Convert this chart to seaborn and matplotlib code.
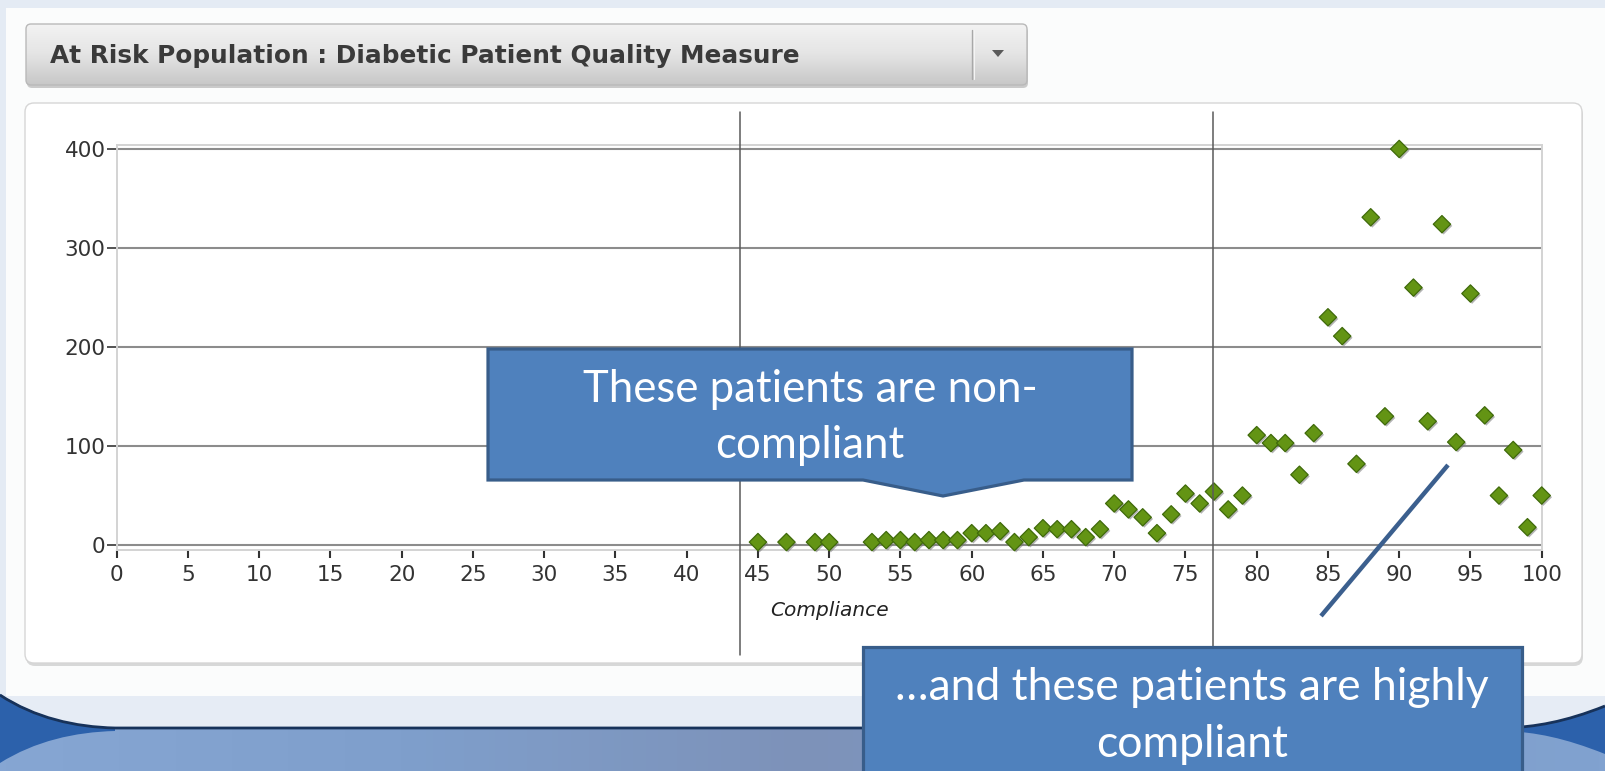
import numpy as np
import matplotlib
matplotlib.use("Agg")
import matplotlib.pyplot as plt
import matplotlib.patheffects as pe
from matplotlib.patches import Polygon, FancyBboxPatch, Rectangle
from matplotlib.path import Path
from matplotlib.patches import PathPatch
import seaborn as sns
import pandas as pd

# ---------------- data ----------------
compliance = [45, 47, 49, 50, 53, 54, 55, 56, 57, 58, 59, 60, 61, 62, 63, 64,
              65, 66, 67, 68, 69, 70, 71, 72, 73, 74, 75, 76, 77, 78, 79, 80,
              81, 82, 83, 84, 85, 86, 87, 88, 89, 90, 91, 92, 93, 94, 95, 96,
              97, 98, 99, 100]
patients = [3, 3, 3, 3, 3, 5, 5, 3, 5, 5, 5, 12, 12, 14, 3, 8,
            17, 16, 16, 8, 16, 42, 36, 28, 12, 31, 52, 42, 54, 36, 50, 111,
            103, 103, 71, 113, 230, 211, 82, 331, 130, 400, 260, 125, 324, 104, 254, 131,
            50, 96, 18, 50]
x_ticks = list(range(0, 101, 5))
y_ticks = [0, 100, 200, 300, 400]
title = "At Risk Population : Diabetic Patient Quality Measure"
x_label = "Compliance"
callout1_lines = ["These patients are non-", "compliant"]
callout2_lines = ["\u2026and these patients are highly", "compliant"]

df = pd.DataFrame({"Compliance": compliance, "Patients": patients})

sns.set_theme(style="white")
plt.rcParams["font.family"] = ["DejaVu Sans"]

W, H = 1605, 771
fig = plt.figure(figsize=(W / 100, H / 100), dpi=100)
fig.patch.set_facecolor("#fbfcfc")

# ---------------- background (pixel coordinates) ----------------
bg = fig.add_axes([0, 0, 1, 1], zorder=-5)
bg.set_xlim(0, W)
bg.set_ylim(H, 0)
bg.axis("off")

bg.add_patch(Rectangle((0, 0), W, 8, color="#e4ebf4", lw=0))
bg.add_patch(Rectangle((0, 0), 6, 700, color="#e4ebf4", lw=0))
bg.add_patch(Rectangle((0, 696), W, 80, color="#e6ecf5", lw=0))

# blue lower band with gradient
cmap = matplotlib.colors.LinearSegmentedColormap.from_list(
    "band", ["#86a6d3", "#7f9fcc", "#7d92b9", "#7e9cc8", "#81a2d0"])
xs = np.linspace(0, 1, 256)[None, :]
bg.imshow(xs, extent=(0, W, H + 5, 728), cmap=cmap, aspect="auto", zorder=1)

# dark wedges at corners (smooth curves)
lw_path = Path([(0, 694), (35, 717), (75, 727), (115, 728), (115, 731),
                (75, 732), (35, 741), (0, 763), (0, 694)],
               [Path.MOVETO, Path.CURVE4, Path.CURVE4, Path.CURVE4, Path.LINETO,
                Path.CURVE4, Path.CURVE4, Path.CURVE4, Path.CLOSEPOLY])
bg.add_patch(PathPatch(lw_path, fc="#2c61ab", ec="none", zorder=2))
rw_path = Path([(W, 706), (W - 40, 722), (W - 70, 727), (W - 100, 728), (W - 100, 731),
                (W - 70, 732), (W - 40, 738), (W, 754), (W, 706)],
               [Path.MOVETO, Path.CURVE4, Path.CURVE4, Path.CURVE4, Path.LINETO,
                Path.CURVE4, Path.CURVE4, Path.CURVE4, Path.CLOSEPOLY])
bg.add_patch(PathPatch(rw_path, fc="#2c61ab", ec="none", zorder=2))
# dark outline curve
top_path = Path([(0, 695), (35, 718), (75, 727), (115, 728),
                 (W - 100, 728), (W - 70, 727), (W - 40, 722), (W, 706)],
                [Path.MOVETO, Path.CURVE4, Path.CURVE4, Path.CURVE4,
                 Path.LINETO, Path.CURVE4, Path.CURVE4, Path.CURVE4])
bg.add_patch(PathPatch(top_path, fc="none", ec="#17325a", lw=2.0, zorder=3))

# header bar with vertical gradient
hdr = FancyBboxPatch((26, 24), 1001, 61, boxstyle="round,pad=0,rounding_size=5",
                     fc="none", ec="#b9b9b9", lw=1.0, zorder=4)
shadow = FancyBboxPatch((27, 27), 1001, 61, boxstyle="round,pad=0,rounding_size=5",
                        fc="#9a9a9a", ec="none", alpha=0.5, zorder=2)
bg.add_patch(shadow)
bg.add_patch(hdr)
gcmap = matplotlib.colors.LinearSegmentedColormap.from_list("hdr", ["#f3f3f3", "#e4e4e4", "#c7c7c7"])
gimg = bg.imshow(np.linspace(0, 1, 128)[:, None], extent=(26, 1027, 85, 24), cmap=gcmap,
                 aspect="auto", zorder=3)
gimg.set_clip_path(hdr)
bg.plot([972, 972], [30, 79], color="#a8a8a8", lw=1.0, zorder=5)
bg.plot([973.5, 973.5], [30, 79], color="#f4f4f4", lw=0.8, zorder=5)
bg.add_patch(Polygon([(992, 50), (1004, 50), (998, 57)], closed=True, fc="#5a5a5a", ec="none", zorder=5))
bg.text(50, 56, title, fontsize=17.8, fontweight="bold", color="#3a3a3a",
        va="center", ha="left", zorder=6)

# chart panel
pshadow = FancyBboxPatch((26, 106), 1557, 560, boxstyle="round,pad=0,rounding_size=9",
                         fc="#c9c9c9", ec="none", alpha=0.7, zorder=2)
panel = FancyBboxPatch((25, 103), 1557, 560, boxstyle="round,pad=0,rounding_size=9",
                       fc="white", ec="#d6d6d6", lw=1.0, zorder=3)
bg.add_patch(pshadow)
bg.add_patch(panel)

# ---------------- scatter chart ----------------
ax = fig.add_axes([116.7 / W, (H - 550) / H, (1541.7 - 116.7) / W, (550 - 145) / H], zorder=1)
ax.set_facecolor("none")
sns.scatterplot(data=df, x="Compliance", y="Patients", marker="D", s=78,
                color="#639414", edgecolor="#3f6a0a", linewidth=0.9, ax=ax, zorder=5)
coll = ax.collections[0]
coll.set_path_effects([pe.SimplePatchShadow(offset=(1.2, -1.2), shadow_rgbFace="#777777", alpha=0.55),
                       pe.Normal()])
coll.set_clip_on(False)

ax.set_xlim(0, 100)
ax.set_ylim(-5, 404)
ax.set_xticks(x_ticks)
ax.set_xticklabels([str(t) for t in x_ticks])
ax.set_yticks(y_ticks)
ax.set_yticklabels([str(t) for t in y_ticks])
ax.set_axisbelow(True)
ax.yaxis.grid(True, color="#8c8c8c", lw=1.5)
ax.xaxis.grid(False)
for s in ax.spines.values():
    s.set_color("#d3d3d3")
    s.set_linewidth(1.4)
ax.tick_params(axis="x", which="major", bottom=True, direction="out", length=5.5, width=1.5,
               color="#333333", labelsize=15.5, labelcolor="#333333", pad=5)
ax.tick_params(axis="y", which="major", left=True, direction="out", length=7, width=1.3,
               color="#444444", labelsize=15.5, labelcolor="#333333", pad=1)
ax.set_xlabel(x_label, fontsize=14.5, fontstyle="italic", color="#222222", labelpad=12)
ax.set_ylabel("")

# ---------------- overlay annotations (pixel coordinates) ----------------
ov = fig.add_axes([0, 0, 1, 1], zorder=3)
ov.set_xlim(0, W)
ov.set_ylim(H, 0)
ov.axis("off")
ov.patch.set_alpha(0)

for xv in (740, 1213):
    ov.plot([xv, xv], [112, 655], color="#5a5a5a", lw=1.1, zorder=1)

box1 = [(488, 349), (1132, 349), (1132, 480), (1024, 480), (943, 496), (863, 480), (488, 480)]
ov.add_patch(Polygon(box1, closed=True, fc="#4f81bd", ec="#385d8a", lw=2.3, joinstyle="miter", zorder=3))
for line, yb in zip(callout1_lines, (402, 458)):
    ov.text(810, yb, line, ha="center", va="baseline", fontsize=31.5, color="white",
            family=["Lato", "DejaVu Sans"], zorder=4)

ov.plot([1448, 1321], [465, 616], color="#3b5f8e", lw=3.2, solid_capstyle="butt", zorder=2)

box2 = [(863, 647), (1522, 647), (1522, 790), (863, 790)]
ov.add_patch(Polygon(box2, closed=True, fc="#4f81bd", ec="#385d8a", lw=2.3, joinstyle="miter", zorder=3))
for line, yb in zip(callout2_lines, (700, 757)):
    ov.text(1192, yb, line, ha="center", va="baseline", fontsize=32, color="white",
            family=["Lato", "DejaVu Sans"], zorder=4)

fig.savefig("out.png", dpi=100, facecolor=fig.get_facecolor())
